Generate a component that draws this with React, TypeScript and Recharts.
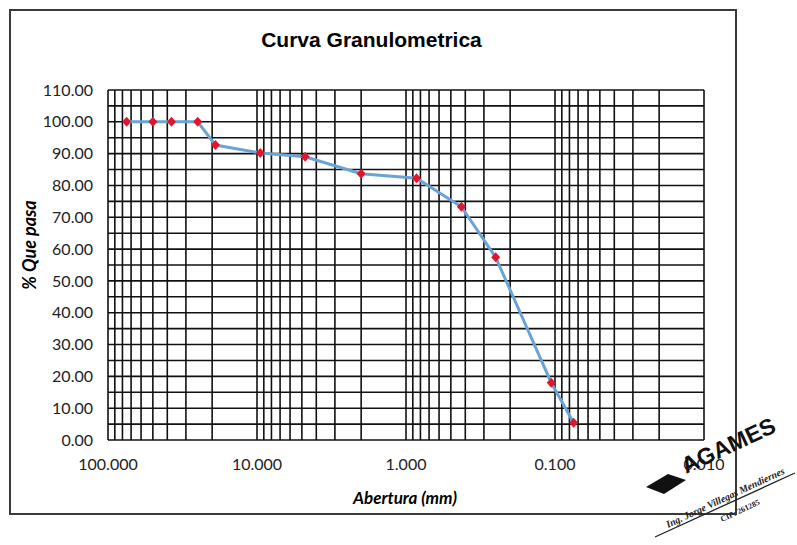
import React from "react";
import { LineChart, Line, XAxis, YAxis, ReferenceLine } from "recharts";

// Sieve openings (mm) and % passing
const sizes = [75, 50, 37.5, 25, 19, 9.5, 4.75, 2.0, 0.85, 0.425, 0.25, 0.106, 0.075];
const passing = [100, 100, 100, 100, 92.7, 90.2, 89.0, 83.7, 82.3, 73.3, 57.4, 18.0, 5.4];
const xTicks = [100, 10, 1, 0.1, 0.01];
const yTicks = [0, 10, 20, 30, 40, 50, 60, 70, 80, 90, 100, 110];
const decades = [0.01, 0.1, 1, 10];
const multipliers = [1, 2, 3, 4, 5, 6, 7, 8, 9];
const hGridStep = 5;
const yMax = 110;

const data = sizes.map((s, i) => ({ size: s, pass: passing[i] }));
const vGrid: number[] = [];
decades.forEach((d) => multipliers.forEach((m) => vGrid.push(+(d * m).toPrecision(6))));
vGrid.push(100);
const hGrid: number[] = [];
for (let v = 0; v <= yMax; v += hGridStep) hGrid.push(v);

const Diamond = (props: any) => {
  const { cx, cy, index } = props;
  if (cx == null || cy == null) return <g key={index} />;
  return (
    <polygon
      key={index}
      points={`${cx},${cy - 5} ${cx + 4.5},${cy} ${cx},${cy + 5} ${cx - 4.5},${cy}`}
      fill="#e0162b"
    />
  );
};

const font = "Lato, 'Open Sans', sans-serif";

export default function App() {
  return (
    <div style={{ position: "fixed", left: 0, top: 0, width: 797, height: 545, background: "#fff", overflow: "hidden" }}>
      <div
        style={{
          position: "absolute",
          left: 9,
          top: 9,
          width: 724,
          height: 502,
          border: "2px solid #3a3a3a",
          boxSizing: "content-box",
        }}
      />
      <div
        style={{
          position: "absolute",
          left: 0,
          width: 743,
          top: 28,
          textAlign: "center",
          fontFamily: "'Liberation Sans', Arial, sans-serif",
          fontWeight: "bold",
          fontSize: 21,
          color: "#000",
        }}
      >
        Curva Granulometrica
      </div>
      <div style={{ position: "absolute", left: 0, top: 0 }}>
        <LineChart width={797} height={545} data={data} margin={{ top: 90, right: 93, bottom: 65, left: 28 }}>
          {hGrid.map((v) => (
            <ReferenceLine key={"h" + v} y={v} stroke="#111" strokeWidth={1.6} ifOverflow="extendDomain" />
          ))}
          {vGrid.map((v) => (
            <ReferenceLine key={"v" + v} x={v} stroke="#111" strokeWidth={1.6} />
          ))}
          <XAxis
            dataKey="size"
            type="number"
            scale="log"
            domain={[0.01, 100]}
            reversed
            allowDataOverflow
            ticks={xTicks}
            tickFormatter={(v: number) => v.toFixed(3)}
            axisLine={false}
            tickLine={false}
            tickSize={0}
            tickMargin={19}
            height={40}
            tick={{ fill: "#222", fontSize: 16, fontFamily: font }}
            interval={0}
          />
          <YAxis
            type="number"
            domain={[0, yMax]}
            ticks={yTicks}
            tickFormatter={(v: number) => v.toFixed(2)}
            axisLine={false}
            tickLine={false}
            tickSize={0}
            tickMargin={15}
            width={80}
            tick={{ fill: "#222", fontSize: 16, fontFamily: font }}
            interval={0}
          />
          <Line
            dataKey="pass"
            stroke="#6aa3d5"
            strokeWidth={3}
            dot={<Diamond />}
            activeDot={false}
            isAnimationActive={false}
          />
        </LineChart>
      </div>
      <div
        style={{
          position: "absolute",
          left: 305,
          width: 200,
          top: 487,
          textAlign: "center",
          fontFamily: font,
          fontWeight: "bold",
          fontStyle: "italic",
          fontSize: 17,
          color: "#000",
        }}
      >
        Abertura (mm)
      </div>
      <div
        style={{
          position: "absolute",
          left: 29,
          top: 245,
          width: 140,
          marginLeft: -70,
          marginTop: -11,
          textAlign: "center",
          transform: "rotate(-90deg)",
          fontFamily: font,
          fontWeight: "bold",
          fontStyle: "italic",
          fontSize: 18,
          lineHeight: "22px",
          color: "#000",
        }}
      >
        % Que pasa
      </div>
      <svg style={{ position: "absolute", left: 0, top: 0 }} width={797} height={545}>
        <polygon points="646,487 668,474 686,480 664,494" fill="#111" />
        <text
          x={686}
          y={474}
          transform="rotate(-25 686 474)"
          fontFamily="'Liberation Sans', Arial, sans-serif"
          fontWeight="bold"
          fontSize={23}
          fill="#111"
        >
          AGAMES
        </text>
        <line x1={655} y1={537} x2={795} y2={473} stroke="#222" strokeWidth={1.3} />
        <text
          x={668}
          y={528}
          transform="rotate(-25 668 528)"
          fontFamily="'Liberation Serif', serif"
          fontStyle="italic"
          fontWeight="bold"
          fontSize={10}
          fill="#222"
        >
          Ing. Jorge Villegas Mendiernes
        </text>
        <text
          x={722}
          y={522}
          transform="rotate(-25 722 522)"
          fontFamily="'Liberation Serif', serif"
          fontWeight="bold"
          fontSize={8}
          fill="#222"
        >
          CIP: 261285
        </text>
      </svg>
    </div>
  );
}
